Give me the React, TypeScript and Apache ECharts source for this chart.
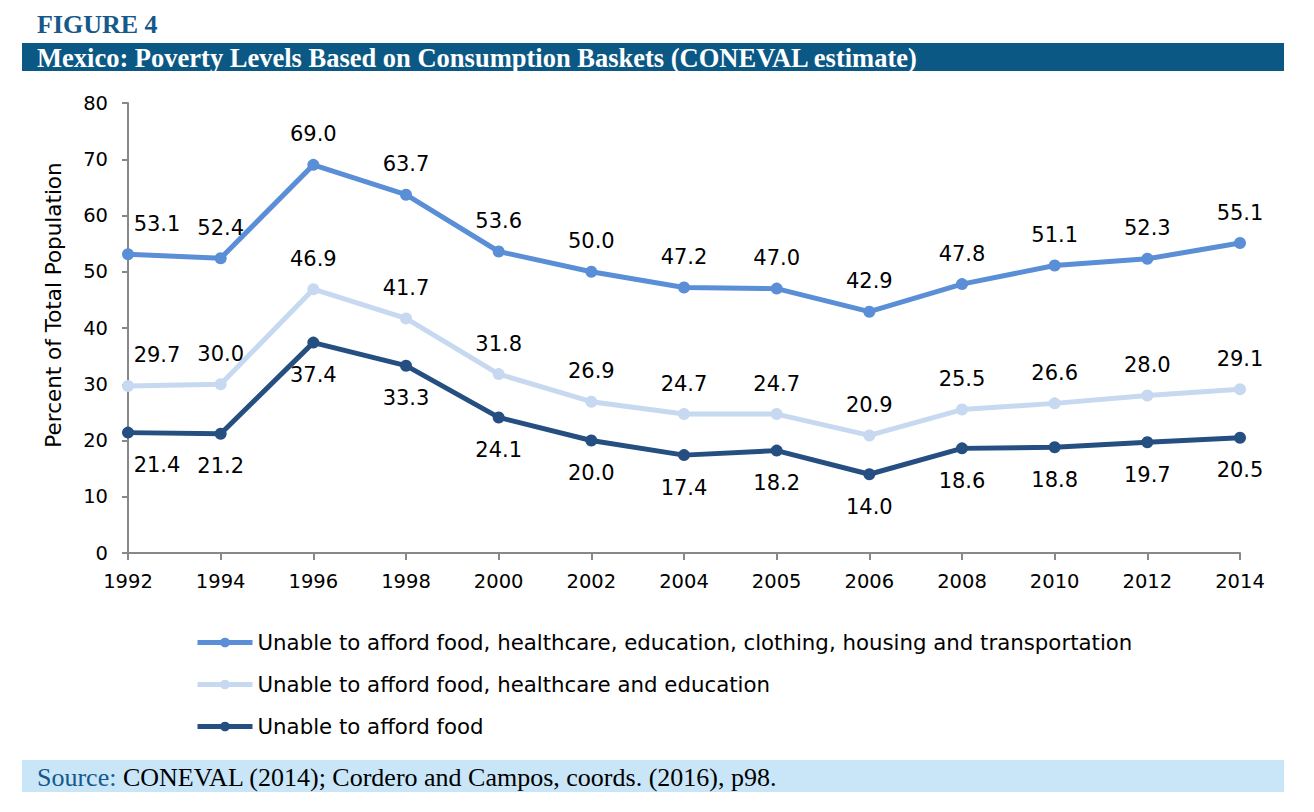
import React, { useEffect, useRef } from "react";
import * as echarts from "echarts";

const years = ["1992", "1994", "1996", "1998", "2000", "2002", "2004", "2005", "2006", "2008", "2010", "2012", "2014"];
const seriesNames = [
  "Unable to afford food, healthcare, education, clothing, housing and transportation",
  "Unable to afford food, healthcare and education",
  "Unable to afford food",
];
const assetPoverty = [53.1, 52.4, 69.0, 63.7, 53.6, 50.0, 47.2, 47.0, 42.9, 47.8, 51.1, 52.3, 55.1];
const capabilityPoverty = [29.7, 30.0, 46.9, 41.7, 31.8, 26.9, 24.7, 24.7, 20.9, 25.5, 26.6, 28.0, 29.1];
const foodPoverty = [21.4, 21.2, 37.4, 33.3, 24.1, 20.0, 17.4, 18.2, 14.0, 18.6, 18.8, 19.7, 20.5];

const colors = ["#5a8ed6", "#c6d9f0", "#254f81"];
const FONT = "'DejaVu Sans', Verdana, sans-serif";
const SERIF = "'Liberation Serif', 'Times New Roman', serif";

// label nudge for the first point of each line (layout only)
const FIRST_SHIFT = 29;

function withShift(values: number[]) {
  return values.map((v, i) =>
    i === 0 ? { value: v, label: { offset: [FIRST_SHIFT, 0] } } : v
  );
}

export default function App() {
  const ref = useRef<HTMLDivElement>(null);
  useEffect(() => {
    if (!ref.current) return;
    const chart = echarts.init(ref.current, undefined, { renderer: "svg" });
    const mk = (name: string, data: any[], color: string, pos: string, dist: number) => ({
      name,
      type: "line",
      data,
      symbol: "circle",
      symbolSize: 12,
      lineStyle: { width: 5, color },
      itemStyle: { color },
      label: {
        show: true,
        position: pos,
        distance: dist,
        color: "#000",
        fontFamily: FONT,
        fontSize: 21,
        formatter: (p: any) => Number(p.value).toFixed(1),
      },
    });
    chart.setOption({
      animation: false,
      backgroundColor: "#fff",
      grid: { left: 128, right: 74, top: 103, bottom: 259, containLabel: false },
      xAxis: {
        type: "category",
        data: years,
        boundaryGap: false,
        axisLine: { lineStyle: { color: "#888", width: 2 } },
        axisTick: { show: true, length: 7, lineStyle: { color: "#888", width: 2 } },
        axisLabel: { color: "#000", fontFamily: FONT, fontSize: 19.5, margin: 18 },
      },
      yAxis: {
        type: "value",
        min: 0,
        max: 80,
        interval: 10,
        name: "Percent of Total Population",
        nameLocation: "middle",
        nameGap: 64,
        nameTextStyle: { color: "#000", fontFamily: FONT, fontSize: 21.5, padding: [0, 0, 0, 46] },
        axisLine: { show: true, lineStyle: { color: "#888", width: 2 } },
        axisTick: { show: true, length: 6, lineStyle: { color: "#888", width: 2 } },
        splitLine: { show: false },
        axisLabel: { color: "#000", fontFamily: FONT, fontSize: 19.5, margin: 20 },
      },
      legend: {
        orient: "vertical",
        left: 195,
        top: 632,
        padding: 0,
        itemWidth: 55,
        itemHeight: 12,
        itemGap: 21,
        lineStyle: { width: 5 },
        textStyle: { color: "#000", fontFamily: FONT, fontSize: 21.3 },
        data: seriesNames,
      },
      series: [
        mk(seriesNames[0], withShift(assetPoverty), colors[0], "top", 14),
        mk(seriesNames[1], withShift(capabilityPoverty), colors[1], "top", 14),
        mk(seriesNames[2], withShift(foodPoverty), colors[2], "bottom", 16),
      ],
      graphic: [
        {
          type: "text",
          x: 37,
          y: 24,
          style: { text: "FIGURE 4", fill: "#14598a", font: `bold 26px ${SERIF}`, verticalAlign: "middle" },
        },
        {
          type: "rect",
          shape: { x: 22, y: 43, width: 1262, height: 28 },
          style: { fill: "#0b5884" },
        },
        {
          type: "text",
          x: 37,
          y: 58,
          style: {
            text: "Mexico: Poverty Levels Based on Consumption Baskets (CONEVAL estimate)",
            fill: "#fff",
            font: `bold 26.5px ${SERIF}`,
            verticalAlign: "middle",
          },
        },
        {
          type: "rect",
          shape: { x: 22, y: 760, width: 1262, height: 32 },
          style: { fill: "#c9e5f8" },
        },
        {
          type: "text",
          x: 37,
          y: 777,
          style: {
            text: "{a|Source:}{b| CONEVAL (2014); Cordero and Campos, coords. (2016), p98.}",
            verticalAlign: "middle",
            rich: {
              a: { fill: "#14598a", font: `26px ${SERIF}` },
              b: { fill: "#000", font: `26px ${SERIF}` },
            },
          },
        },
      ],
    });
    return () => chart.dispose();
  }, []);
  return (
    <div
      ref={ref}
      style={{ position: "fixed", left: 0, top: 0, width: 1314, height: 812 }}
    />
  );
}
